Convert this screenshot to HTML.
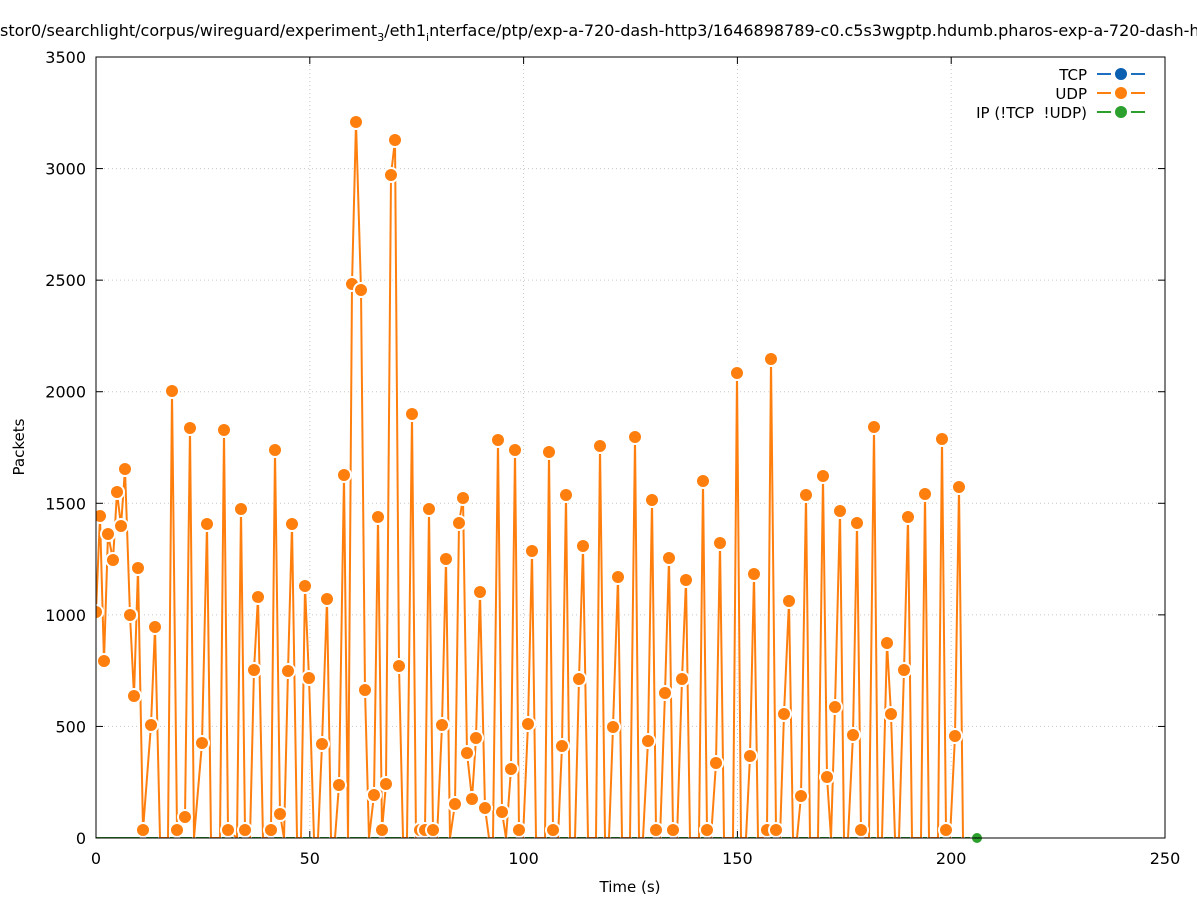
<!DOCTYPE html>
<html><head><meta charset="utf-8"><style>
body{margin:0;background:#fff;}
svg{display:block;font-family:"DejaVu Sans","Liberation Sans",sans-serif;}
</style></head><body>
<svg id="s" width="1197" height="900" viewBox="0 0 1197 900" xmlns="http://www.w3.org/2000/svg">
<rect width="1197" height="900" fill="#fff"/>
<text x="0" y="36" font-size="16" fill="#000">stor0/searchlight/corpus/wireguard/experiment<tspan font-size="11" dy="5">3</tspan><tspan dy="-5">/eth1</tspan><tspan font-size="11" dy="5">i</tspan><tspan dy="-5">nterface/ptp/exp-a-720-dash-http3/1646898789-c0.c5s3wgptp.hdumb.pharos-exp-a-720-dash-h</tspan></text>
<g id="grid" stroke="#c8c8c8" stroke-width="1" stroke-dasharray="1,3"></g>
<g id="axes"></g>
<g clip-path="url(#cp)">
<line x1="96" y1="838" x2="977" y2="838" stroke="#2ca02c" stroke-width="2"/>
<polyline id="pl" fill="none" stroke="#fff" stroke-width="4" stroke-linejoin="round"/>
<polyline id="pl2" fill="none" stroke="#ff7f0e" stroke-width="2" stroke-linejoin="round"/>
<g id="mk"></g>
</g>
<defs><clipPath id="cp"><rect x="96" y="57" width="1069" height="781"/></clipPath></defs>
<circle cx="977" cy="838" r="6" fill="#2ca02c" stroke="#fff" stroke-width="2"/>
<rect x="96" y="57" width="1069" height="781" fill="none" stroke="#000" stroke-width="1"/>
<g font-size="15" text-anchor="end">
<text x="1087" y="80">TCP</text>
<text x="1087" y="99">UDP</text>
<text x="1087" y="118">IP (!TCP&#160; !UDP)</text>
</g>
<g stroke-width="2">
<line x1="1097" y1="74" x2="1145" y2="74" stroke="#1f6fbf" stroke-dasharray="14,6,8,6,14"/>
<circle cx="1121" cy="74" r="6" fill="#0a5fb0"/>
<line x1="1097" y1="93" x2="1145" y2="93" stroke="#ff7f0e" stroke-dasharray="14,6,8,6,14"/>
<circle cx="1121" cy="93" r="6" fill="#ff7f0e"/>
<line x1="1097" y1="112" x2="1145" y2="112" stroke="#2ca02c" stroke-dasharray="14,6,8,6,14"/>
<circle cx="1121" cy="112" r="6" fill="#2ca02c"/>
</g>
<text x="630" y="892" font-size="15" text-anchor="middle">Time (s)</text>
<text transform="translate(24,447) rotate(-90)" font-size="15" text-anchor="middle">Packets</text>
</svg>
<script>
var NS="http://www.w3.org/2000/svg";
function el(p,t,a,txt){var e=document.createElementNS(NS,t);for(var k in a)e.setAttribute(k,a[k]);if(txt!=null)e.textContent=txt;p.appendChild(e);return e;}
var g=document.getElementById('grid'),ax=document.getElementById('axes');
for(var v=0;v<=250;v+=50){var x=96+v*4.276;if(v>0&&v<250)el(g,'line',{x1:x,y1:57,x2:x,y2:838});
el(ax,'line',{x1:x,y1:838,x2:x,y2:831,stroke:'#000'});el(ax,'line',{x1:x,y1:57,x2:x,y2:64,stroke:'#000'});
el(ax,'text',{x:x,y:864,'font-size':16,'text-anchor':'middle'},String(v));}
for(var v=0;v<=3500;v+=500){var y=838-v*0.22314;if(v>0&&v<3500)el(g,'line',{x1:96,y1:y,x2:1165,y2:y});
el(ax,'line',{x1:96,y1:y,x2:103,y2:y,stroke:'#000'});el(ax,'line',{x1:1165,y1:y,x2:1158,y2:y,stroke:'#000'});
el(ax,'text',{x:86,y:y+6,'font-size':16,'text-anchor':'end'},String(v));}
var P=[[96,612],[100,516],[104,661],[108,534],[113,560],[117,492],[121,526],[125,469],[130,615],[134,696],[138,568],[143,830],[151,725],[155,627],[160,838],[168,838],[172,391],[177,830],[185,817],[190,428],[194,838],[202,743],[207,524],[211,838],[220,838],[224,430],[228,830],[237,838],[241,509],[245,830],[250,838],[254,670],[258,597],[263,838],[267,838],[271,830],[275,450],[280,814],[284,838],[288,671],[292,524],[297,838],[301,838],[305,586],[309,678],[314,838],[318,838],[322,744],[327,599],[331,838],[335,838],[339,785],[344,475],[348,838],[352,284],[356,122],[361,290],[365,690],[369,838],[374,795],[378,517],[382,830],[386,784],[391,175],[395,140],[399,666],[403,838],[407,838],[412,414],[416,838],[420,830],[425,830],[429,509],[433,830],[437,838],[442,725],[446,559],[450,838],[455,804],[459,523],[463,498],[467,753],[472,799],[476,738],[480,592],[485,808],[489,838],[493,838],[498,440],[502,812],[506,838],[511,769],[515,450],[519,830],[523,838],[528,724],[532,551],[536,838],[541,838],[545,838],[549,452],[553,830],[558,838],[562,746],[566,495],[570,838],[575,838],[579,679],[583,546],[588,838],[592,838],[596,838],[600,446],[605,838],[609,838],[613,727],[618,577],[622,838],[626,838],[630,838],[635,437],[639,838],[643,838],[648,741],[652,500],[656,830],[660,838],[665,693],[669,558],[673,830],[677,838],[682,679],[686,580],[690,838],[694,838],[699,838],[703,481],[707,830],[711,838],[716,763],[720,543],[724,838],[728,838],[733,838],[737,373],[741,838],[746,838],[750,756],[754,574],[758,838],[763,838],[767,830],[771,359],[776,830],[780,838],[784,714],[789,601],[793,838],[797,838],[801,796],[806,495],[810,838],[814,838],[818,838],[823,476],[827,777],[831,838],[835,707],[840,511],[844,838],[848,838],[853,735],[857,523],[861,830],[865,838],[869,838],[874,427],[878,838],[882,838],[887,643],[891,714],[895,838],[899,838],[904,670],[908,517],[912,838],[916,838],[921,838],[925,494],[929,838],[933,838],[938,838],[942,439],[946,830],[950,838],[955,736],[959,487],[963,838]];
var s=P.map(function(p){return p[0]+','+p[1]}).join(' ');
document.getElementById('pl').setAttribute('points',s);
document.getElementById('pl2').setAttribute('points',s);
var mk=document.getElementById('mk');
P.forEach(function(p){if(p[1]<837)el(mk,'circle',{cx:p[0],cy:p[1],r:7,fill:'#ff7f0e',stroke:'#fff','stroke-width':2});});
</script>
</body></html>
